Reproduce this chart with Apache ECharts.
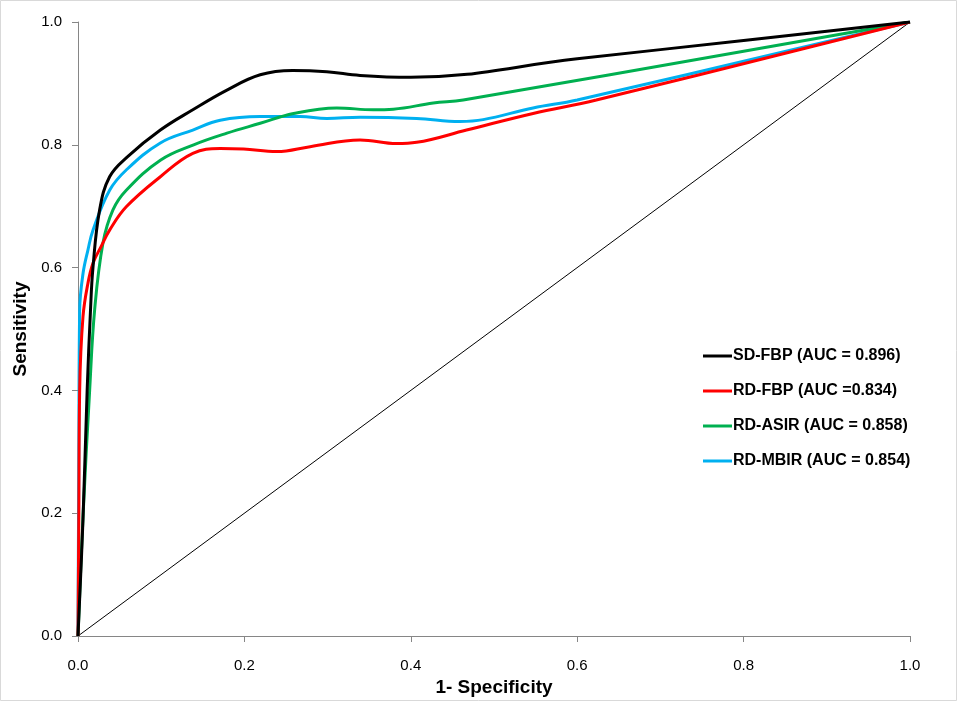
<!DOCTYPE html>
<html>
<head>
<meta charset="utf-8">
<script src="https://cdn.jsdelivr.net/npm/echarts@6/dist/echarts.min.js"></script>
<style>
html,body{margin:0;padding:0;background:#fff;}
#chart{width:958px;height:702px;}
</style>
</head>
<body>
<div id="chart"></div>
<script>
// ---- data ----
var seriesNames = ['SD-FBP (AUC = 0.896)', 'RD-FBP (AUC =0.834)', 'RD-ASIR (AUC = 0.858)', 'RD-MBIR (AUC = 0.854)'];
var xTicks = [0, 0.2, 0.4, 0.6, 0.8, 1.0];
var yTicks = [0, 0.2, 0.4, 0.6, 0.8, 1.0];

var sdFbp = [[0,0],[0.006,0.19],[0.011,0.4],[0.015,0.53],[0.018,0.6],[0.026,0.694],[0.038,0.748],[0.059,0.78],[0.099,0.824],[0.138,0.857],[0.179,0.889],[0.219,0.914],[0.258,0.921],[0.299,0.919],[0.339,0.913],[0.4,0.910],[0.6,0.94],[0.8,0.97],[1,1]];
var rdFbp = [[0,0],[0.001,0.2],[0.002,0.4],[0.006,0.52],[0.012,0.575],[0.018,0.607],[0.028,0.635],[0.038,0.661],[0.058,0.699],[0.099,0.748],[0.138,0.786],[0.171,0.794],[0.199,0.793],[0.239,0.789],[0.279,0.797],[0.339,0.808],[0.383,0.802],[0.407,0.804],[0.467,0.824],[0.547,0.851],[0.623,0.873],[1,1]];
var rdAsir = [[0,0],[0.006,0.194],[0.014,0.4],[0.020,0.531],[0.030,0.640],[0.042,0.694],[0.058,0.726],[0.099,0.775],[0.139,0.800],[0.179,0.819],[0.219,0.835],[0.259,0.851],[0.311,0.860],[0.355,0.857],[0.379,0.858],[0.427,0.868],[0.463,0.873],[1,1]];
var rdMbir = [[0,0],[0.001,0.3],[0.002,0.531],[0.006,0.59],[0.012,0.629],[0.018,0.661],[0.038,0.726],[0.058,0.759],[0.099,0.803],[0.138,0.824],[0.171,0.840],[0.219,0.846],[0.267,0.846],[0.299,0.843],[0.339,0.845],[0.407,0.843],[0.459,0.838],[0.487,0.841],[0.547,0.860],[0.6,0.873],[1,1]];
var chance = [[0,0],[1,1]];

var colors = ['#000000', '#ff0000', '#00b050', '#00b0f0'];
var curves = [sdFbp, rdFbp, rdAsir, rdMbir];

var chart = echarts.init(document.getElementById('chart'), null, {renderer: 'canvas'});

var tickFont = {fontFamily: '"Liberation Sans Narrow", "Liberation Sans", sans-serif', fontSize: 15, color: '#000'};
var nameFont = {fontFamily: '"Liberation Sans", sans-serif', fontSize: 19, fontWeight: 'bold', color: '#000'};

var series = curves.map(function (d, i) {
  return {
    name: seriesNames[i],
    type: 'line',
    data: d,
    smooth: 0.4,
    symbol: 'none',
    lineStyle: {color: colors[i], width: 3},
    itemStyle: {color: colors[i]},
    z: 3 + (3 - i)
  };
});
series.push({
  name: 'chance',
  type: 'line',
  data: chance,
  symbol: 'none',
  lineStyle: {color: '#000', width: 1},
  z: 2,
  silent: true
});

chart.setOption({
  animation: false,
  backgroundColor: '#fff',
  grid: {left: 78, right: 48, top: 22, bottom: 66},
  legend: {
    data: seriesNames,
    orient: 'vertical',
    left: 698,
    top: 341,
    icon: 'rect',
    itemWidth: 29,
    itemHeight: 3,
    itemGap: 15,
    textStyle: {fontFamily: '"Liberation Sans", sans-serif', fontSize: 16, fontWeight: 'bold', color: '#000', lineHeight: 20, padding: [0,0,0,-4]}
  },
  xAxis: {
    type: 'value', min: 0, max: 1, interval: 0.2,
    name: '1- Specificity', nameLocation: 'middle', nameGap: 42,
    nameTextStyle: nameFont,
    axisLine: {show: true, lineStyle: {color: '#868686', width: 1}},
    axisTick: {show: true, inside: false, length: 6, lineStyle: {color: '#868686'}},
    axisLabel: Object.assign({margin: 22, formatter: function (v) { return v.toFixed(1); }}, tickFont),
    splitLine: {show: false}
  },
  yAxis: {
    type: 'value', min: 0, max: 1, interval: 0.2,
    name: 'Sensitivity', nameLocation: 'middle', nameGap: 45,
    nameTextStyle: nameFont,
    axisLine: {show: true, lineStyle: {color: '#868686', width: 1}},
    axisTick: {show: true, inside: false, length: 6, lineStyle: {color: '#868686'}},
    axisLabel: Object.assign({margin: 16, formatter: function (v) { return v.toFixed(1); }}, tickFont),
    splitLine: {show: false}
  },
  graphic: [{
    type: 'rect',
    shape: {x: 0.5, y: 0.5, width: 956, height: 700},
    style: {fill: 'none', stroke: '#d9d9d9', lineWidth: 1},
    silent: true
  }],
  series: series
});
</script>
</body>
</html>
